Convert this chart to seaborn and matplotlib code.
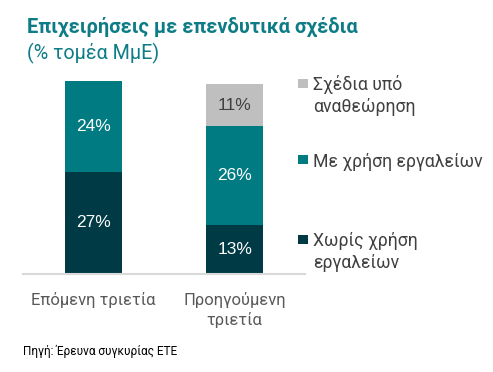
import numpy as np
import pandas as pd
import matplotlib
matplotlib.use("Agg")
import matplotlib.pyplot as plt
import seaborn as sns
from matplotlib.patches import Rectangle

periods = ["Επόμενη τριετία", "Προηγούμενη\nτριετία"]
series_names = ["Χωρίς χρήση\nεργαλείων", "Με χρήση εργαλείων", "Σχέδια υπό\nαναθεώρηση"]
no_tools = [27, 13]
with_tools = [24, 26]
under_review = [0, 11]
colors = ["#003a44", "#007b82", "#bfbfbf"]
label_colors = ["white", "white", "#404040"]

sns.set_theme(style="white")
plt.rcParams["font.family"] = ["Roboto", "DejaVu Sans"]

W, H = 493, 372
fig = plt.figure(figsize=(W / 100, H / 100), dpi=100)
ax = fig.add_axes([0.047, 0.264, 0.572, 0.56])

values = [no_tools, with_tools, under_review]
bottom = np.zeros(len(periods))
for name, vals, col, lc in zip(series_names, values, colors, label_colors):
    df = pd.DataFrame({"period": periods, "value": vals})
    sns.barplot(data=df, x="period", y="value", color=col, width=0.4,
                bottom=bottom, ax=ax, saturation=1, errorbar=None, linewidth=0)
    for i, v in enumerate(vals):
        if v > 0:
            ax.text(i, bottom[i] + v / 2, f"{v}%", ha="center", va="center",
                    color=lc, fontsize=12.5, family=["Liberation Sans", "DejaVu Sans"])
    bottom = bottom + np.array(vals)

ax.set_xlim(-0.5, 1.5)
ax.set_ylim(0, 55)
ax.set_xlabel("")
ax.set_ylabel("")
ax.set_yticks([])
for s in ["top", "right", "left"]:
    ax.spines[s].set_visible(False)
ax.spines["bottom"].set_color("#d9d9d9")
ax.spines["bottom"].set_linewidth(1.5)
ax.tick_params(axis="x", length=0, labelsize=12, labelcolor="#595959", pad=13)
for t in ax.get_xticklabels():
    t.set_linespacing(1.35)

# legend drawn by hand: square + text lines (pixel positions from the top)
legend_items = [
    (series_names[2], colors[2], 83, 90),
    (series_names[1], colors[1], 160, 167),
    (series_names[0], colors[0], 239, 246),
]
for label, col, sq_center, base in legend_items:
    fig.add_artist(Rectangle((298 / W, 1 - (sq_center + 4.5) / H), 9.5 / W, 9 / H,
                             transform=fig.transFigure, color=col, lw=0))
    for k, line in enumerate(label.split("\n")):
        fig.text(313 / W, 1 - (base + 22 * k) / H, line, fontsize=12.7,
                 color="#404040", va="baseline")

fig.text(0.055, 0.911, "Επιχειρήσεις με επενδυτικά σχέδια", fontsize=14.4,
         fontweight="bold", color="#0e7c86", va="baseline")
fig.text(0.055, 0.841, "(% τομέα ΜμΕ)", fontsize=14.2, color="#0e7c86", va="baseline")
fig.text(0.047, 0.054, "Πηγή: Έρευνα συγκυρίας ΕΤΕ", fontsize=8.5, color="black", va="center")

fig.savefig("out.png", dpi=100)
